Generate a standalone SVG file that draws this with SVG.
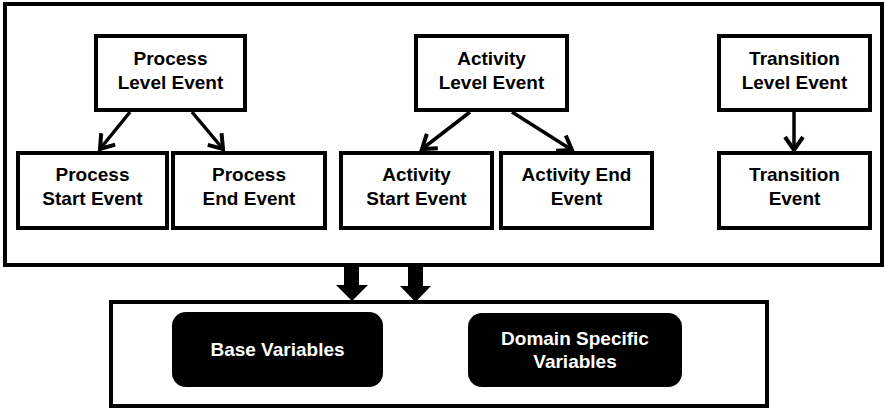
<svg xmlns="http://www.w3.org/2000/svg" width="886" height="408" viewBox="0 0 886 408">
  <style>
    .frame { fill: #ffffff; stroke: #000000; stroke-width: 4; }
    .box { fill: #ffffff; stroke: #000000; stroke-width: 4; }
    .var { fill: #000000; }
    .lbl { font-family: "Liberation Sans", Arial, sans-serif; font-weight: bold; font-size: 19px; text-anchor: middle; fill: #000000; }
    .lbl-w { font-family: "Liberation Sans", Arial, sans-serif; font-weight: bold; font-size: 19px; text-anchor: middle; fill: #ffffff; }
    .edge { fill: none; stroke: #000000; stroke-width: 3.5; marker-end: url(#head); }
    .flow { fill: #000000; }
  </style>
  <defs>
    <marker id="head" markerUnits="userSpaceOnUse" markerWidth="22" markerHeight="22" viewBox="0 0 22 22" refX="18" refY="11" orient="auto">
      <path d="M5,2 L18,11 L5,20" fill="none" stroke="#000000" stroke-width="4" stroke-linejoin="miter"/>
    </marker>
  </defs>
  <rect width="886" height="408" fill="#ffffff"/>

  <!-- event container -->
  <rect id="events" class="frame" x="5" y="4" width="877" height="261"/>
  <!-- variable container -->
  <rect id="variables" class="frame" x="111" y="302" width="656" height="104"/>

  <g id="process-level">
    <rect class="box" x="96" y="36" width="149" height="74"/>
    <text class="lbl" x="170.5" y="65">Process</text>
    <text class="lbl" x="170.5" y="89">Level Event</text>
  </g>
  <g id="process-start">
    <rect class="box" x="18" y="153" width="149" height="75"/>
    <text class="lbl" x="92.5" y="181">Process</text>
    <text class="lbl" x="92.5" y="205">Start Event</text>
  </g>
  <g id="process-end">
    <rect class="box" x="173" y="153" width="152" height="75"/>
    <text class="lbl" x="249" y="181">Process</text>
    <text class="lbl" x="249" y="205">End Event</text>
  </g>

  <g id="activity-level">
    <rect class="box" x="416" y="36" width="151" height="74"/>
    <text class="lbl" x="491.5" y="65">Activity</text>
    <text class="lbl" x="491.5" y="89">Level Event</text>
  </g>
  <g id="activity-start">
    <rect class="box" x="341" y="153" width="151" height="75"/>
    <text class="lbl" x="416.5" y="181">Activity</text>
    <text class="lbl" x="416.5" y="205">Start Event</text>
  </g>
  <g id="activity-end">
    <rect class="box" x="501" y="153" width="151" height="75"/>
    <text class="lbl" x="576.5" y="181">Activity End</text>
    <text class="lbl" x="576.5" y="205">Event</text>
  </g>

  <g id="transition-level">
    <rect class="box" x="719" y="36" width="151" height="74"/>
    <text class="lbl" x="794.5" y="65">Transition</text>
    <text class="lbl" x="794.5" y="89">Level Event</text>
  </g>
  <g id="transition-event">
    <rect class="box" x="719" y="153" width="151" height="75"/>
    <text class="lbl" x="794.5" y="181">Transition</text>
    <text class="lbl" x="794.5" y="205">Event</text>
  </g>

  <g id="base-variables">
    <rect class="var" x="172" y="312" width="211" height="75" rx="14" ry="14"/>
    <text class="lbl-w" x="277.5" y="356">Base Variables</text>
  </g>
  <g id="domain-variables">
    <rect class="var" x="468" y="313" width="214" height="74" rx="14" ry="14"/>
    <text class="lbl-w" x="575" y="345">Domain Specific</text>
    <text class="lbl-w" x="575" y="368">Variables</text>
  </g>

  <g id="connectors">
    <line class="edge" x1="130" y1="112" x2="100" y2="149"/>
    <line class="edge" x1="192" y1="112" x2="223" y2="149"/>
    <line class="edge" x1="470" y1="112" x2="422" y2="149"/>
    <line class="edge" x1="512" y1="112" x2="572" y2="150"/>
    <line class="edge" x1="794" y1="112" x2="794" y2="150"/>
    <!-- block arrows from the event container into the variable container -->
    <polygon class="flow" points="344,265 359,265 359,285 368,285 352,301 336,285 344,285"/>
    <polygon class="flow" points="408,265 423,265 423,286 431,286 415.5,302 400,286 408,286"/>
  </g>
</svg>
